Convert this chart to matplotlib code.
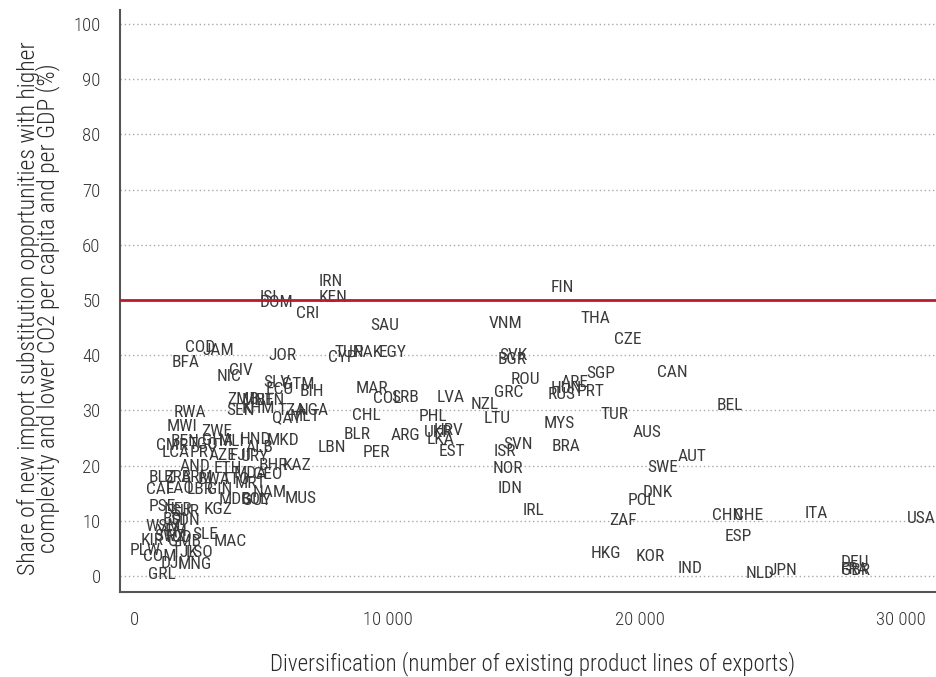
import matplotlib
matplotlib.use("Agg")
import matplotlib.pyplot as plt
from matplotlib.ticker import FuncFormatter
from matplotlib.transforms import ScaledTranslation

FONT = ["Roboto Condensed", "Roboto", "DejaVu Sans"]
plt.rcParams["font.family"] = FONT

# --- data -------------------------------------------------------------
countries = [
    "IRN", "KEN", "ISL", "DOM", "CRI", "FIN", "SAU", "VNM", "THA", "CZE",
    "COD", "JAM", "BFA", "NIC", "CIV", "JOR", "CYP", "TUN", "PAK", "EGY",
    "SVK", "BGR", "ROU", "SGP", "CAN", "ARE", "HUN", "RUS", "PRT", "GRC",
    "NZL", "LVA", "MAR", "COL", "SRB", "PHL", "LTU", "TUR", "BEL", "MYS",
    "AUS", "CHL", "BLR", "ARG", "UKR", "HRV", "LKA", "EST", "LBN", "PER",
    "ISR", "SVN", "BRA", "AUT", "SWE", "NOR", "IDN", "DNK", "POL", "IRL",
    "ZAF", "CHN", "CHE", "ITA", "USA", "ESP", "HKG", "KOR", "IND", "NLD",
    "JPN", "DEU", "FRA", "GBR",
    "RWA", "SEN", "KHM", "ZMB", "MNE", "BTN", "SLV", "ECU", "GTM", "BIH",
    "TZA", "NGA", "QAT", "MLT", "MWI", "ZWE", "CMR", "BEN", "TGO", "GHA",
    "MLI", "HND", "ALB", "MKD", "LCA", "PRY", "AZE", "FJI", "URY", "AND",
    "ETH", "BHR", "KAZ", "GEO", "MDA", "BLZ", "BRB", "ARM", "BWA", "TTO",
    "MRT", "CAF", "LAO", "LBR", "GIN", "NAM", "MUS", "MDG", "BOL", "GUY",
    "PSE", "NER", "SUR", "KGZ", "BDI", "SDN", "WSM", "YEM", "SWZ", "TCD",
    "GMB", "SLE", "MAC", "KIR", "PLW", "COM", "TJK", "LSO", "DJI", "MNG",
    "GRL",
]
diversification = [
    7760, 7840, 5350, 5620, 6850, 16910, 9900, 14650, 18220, 19520,
    2570, 3290, 2020, 3720, 4200, 5860, 8200, 8480, 9230, 10180,
    14970, 14930, 15450, 18420, 21270, 17390, 17070, 16870, 18020, 14770,
    13860, 12480, 9390, 9980, 10690, 11800, 14340, 18970, 23560, 16790,
    20280, 9150, 8790, 10690, 12000, 12400, 12080, 12550, 7800, 9540,
    14650, 15170, 17070, 22060, 20870, 14770, 14850, 20670, 20040, 15760,
    19330, 23450, 24280, 26970, 31130, 23880, 18650, 20400, 21980, 24750,
    25660, 28480, 28480, 28520,
    2180, 4160, 4870, 4280, 4870, 5350, 5620, 5740, 6460, 7010,
    6220, 7050, 6020, 6730, 1860, 3250, 1470, 1980, 2690, 3290,
    3840, 4750, 4950, 5860, 1620, 2730, 3450, 4160, 4750, 2380,
    3680, 5470, 6420, 5270, 4550, 1070, 1700, 2460, 3130, 4000,
    4550, 990, 1780, 2570, 3370, 5350, 6570, 3960, 4750, 4830,
    1070, 1700, 1980, 3290, 1580, 1980, 1110, 1470, 1390, 1700,
    1980, 2770, 3760, 670, 400, 990, 1980, 2570, 1470, 2380,
    1070,
]
share = [
    53.4, 50.4, 50.5, 49.6, 47.5, 52.2, 45.3, 45.7, 46.6, 42.8,
    41.3, 40.9, 38.6, 36.2, 37.3, 39.9, 39.5, 40.4, 40.4, 40.4,
    39.9, 39.3, 35.5, 36.6, 36.8, 35.0, 33.9, 32.8, 33.5, 33.3,
    31.0, 32.4, 33.9, 32.2, 32.4, 28.8, 28.6, 29.3, 30.8, 27.7,
    25.9, 29.0, 25.7, 25.4, 25.9, 26.3, 24.8, 22.6, 23.2, 22.3,
    22.5, 23.9, 23.4, 21.7, 19.7, 19.4, 15.8, 15.2, 13.6, 11.8,
    10.0, 10.9, 10.9, 11.4, 10.5, 7.2, 4.0, 3.6, 1.4, 0.5,
    0.9, 2.4, 1.1, 0.9,
    29.7, 29.9, 30.3, 31.9, 31.7, 31.7, 35.1, 33.7, 34.6, 33.5,
    29.9, 29.9, 28.6, 28.8, 27.0, 26.1, 23.7, 24.3, 23.9, 24.5,
    24.3, 24.8, 23.2, 24.5, 22.3, 22.3, 21.9, 21.9, 21.7, 19.9,
    19.4, 20.1, 20.1, 18.3, 18.5, 17.9, 17.8, 17.8, 17.4, 17.4,
    16.8, 15.6, 15.8, 15.6, 15.6, 15.2, 14.1, 13.9, 13.8, 13.6,
    12.5, 12.1, 11.6, 12.0, 10.3, 10.1, 8.9, 8.0, 7.1, 6.9,
    6.3, 7.6, 6.2, 6.5, 4.7, 3.6, 4.3, 4.3, 2.2, 2.0,
    0.2,
]
threshold = 50
x_ticks = [0, 10000, 20000, 30000]
y_ticks = list(range(0, 101, 10))

# --- figure -----------------------------------------------------------
fig = plt.figure(figsize=(9.36, 6.77), dpi=100)
ax = fig.add_axes([0.1282, 0.1256, 0.8718, 0.8594])

TXT = "#333333"
for c, xv, yv in zip(countries, diversification, share):
    ax.text(xv, yv, c, ha="center", va="center", fontsize=12.5,
            color="#3a3a3a", fontweight="normal", family=FONT, clip_on=False)

ax.axhline(threshold, color="#c0182b", lw=2, zorder=3)

ax.set_xlim(-590, 31700)
ax.set_ylim(-2.9, 102.5)
ax.set_xticks(x_ticks)
ax.set_yticks(y_ticks)
ax.xaxis.set_major_formatter(FuncFormatter(lambda v, p: f"{int(v):,}".replace(",", " ")))
ax.tick_params(axis="both", length=0, labelsize=13.5, labelcolor=TXT)
ax.tick_params(axis="y", pad=14)
ax.tick_params(axis="x", pad=14)
for lab in ax.get_xticklabels() + ax.get_yticklabels():
    lab.set_fontweight("light")
last = ax.get_xticklabels()[-1]
last.set_transform(last.get_transform() + ScaledTranslation(0.08, 0, fig.dpi_scale_trans))

ax.yaxis.grid(True, linestyle=(0, (1, 2)), color="#aaaaaa", lw=1)
ax.xaxis.grid(False)
ax.set_axisbelow(True)

for s in ["top", "right"]:
    ax.spines[s].set_visible(False)
for s in ["left", "bottom"]:
    ax.spines[s].set_color("#555555")
    ax.spines[s].set_linewidth(1.5)

ax.set_xlabel("Diversification (number of existing product lines of exports)",
              fontsize=16.5, color="#2a2a2a", fontweight="light")
ax.xaxis.set_label_coords(0.505, -0.102)
ax.set_ylabel("Share of new import substitution opportunities with higher\n"
              "complexity and lower CO2 per capita and per GDP (%)",
              fontsize=17, color="#2a2a2a", fontweight="light", linespacing=0.75)
ax.yaxis.set_label_coords(-0.0735, 0.488)

fig.savefig("out.png", dpi=100)
